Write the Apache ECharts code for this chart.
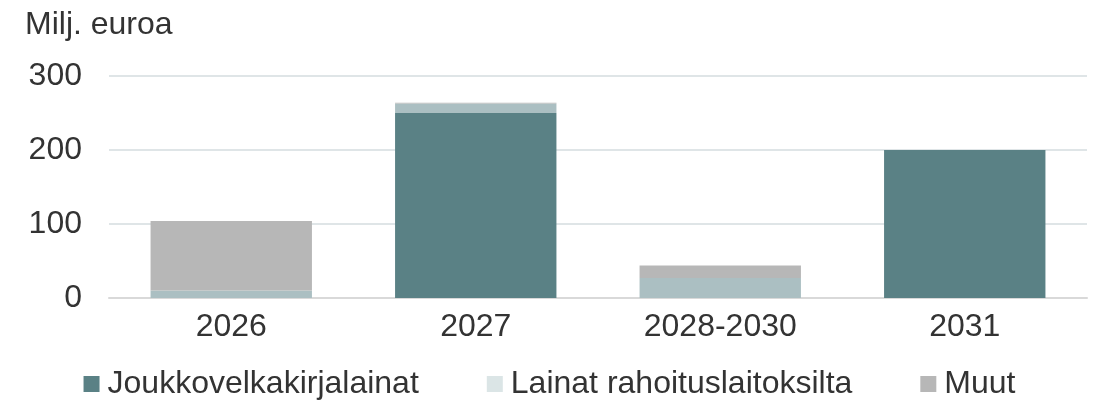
<!DOCTYPE html>
<html>
<head>
<meta charset="utf-8">
<script src="https://cdn.jsdelivr.net/npm/echarts@6/dist/echarts.min.js"></script>
<style>
  html, body { margin: 0; padding: 0; background: #fff; }
  #main { width: 1099px; height: 402px; }
</style>
</head>
<body>
<div id="main"></div>
<script>
// kategoriat ja sarjat
var categories = ['2026', '2027', '2028-2030', '2031'];
var seriesNames = ['Joukkovelkakirjalainat', 'Lainat rahoituslaitoksilta', 'Muut'];
var joukkovelkakirjalainat = [0, 250, 0, 200];
var lainatRahoituslaitoksilta = [10, 13, 27, 0];
var muut = [94, 1, 17, 0];
var yTicks = [0, 100, 200, 300];

var colors = ['#5a8185', '#abbfc2', '#b7b7b7'];
var legendColors = ['#5a8185', '#dbe5e6', '#b7b7b7'];
var font = 'Liberation Sans, Arial, sans-serif';

var myChart = echarts.init(document.getElementById('main'));

function makeSeries(name, data, color) {
  return {
    name: name,
    type: 'bar',
    stack: 'total',
    data: data,
    barWidth: '66%',
    itemStyle: { color: color },
    emphasis: { disabled: true }
  };
}

var option = {
  animation: false,
  textStyle: { fontFamily: font },
  title: {
    text: 'Milj. euroa',
    left: 20,
    top: 4,
    textStyle: { fontSize: 32, fontWeight: 'normal', color: '#333', fontFamily: font }
  },
  grid: { left: 109, right: 12, top: 76, bottom: 104, containLabel: false },
  legend: {
    top: 368,
    left: 'center',
    padding: 0,
    itemWidth: 16,
    itemHeight: 16,
    itemGap: 68,
    icon: 'rect',
    textStyle: { fontSize: 32, color: '#333', fontFamily: font, padding: [0, 0, 0, 3] },
    data: seriesNames.map(function (n, i) {
      return { name: n, itemStyle: { color: legendColors[i] } };
    })
  },
  xAxis: {
    type: 'category',
    data: categories,
    axisLine: { lineStyle: { color: '#d9d9d9', width: 2 } },
    axisTick: { show: false },
    axisLabel: { fontSize: 32, color: '#333', margin: 13, fontFamily: font }
  },
  yAxis: {
    type: 'value',
    min: yTicks[0],
    max: yTicks[yTicks.length - 1],
    interval: 100,
    axisLine: { show: false },
    axisTick: { show: false },
    splitLine: { lineStyle: { color: '#dfe5e7', width: 2 } },
    axisLabel: { fontSize: 32, color: '#333', margin: 27, fontFamily: font }
  },
  series: [
    makeSeries(seriesNames[0], joukkovelkakirjalainat, colors[0]),
    makeSeries(seriesNames[1], lainatRahoituslaitoksilta, colors[1]),
    makeSeries(seriesNames[2], muut, colors[2])
  ]
};
myChart.setOption(option, true);
</script>
</body>
</html>
